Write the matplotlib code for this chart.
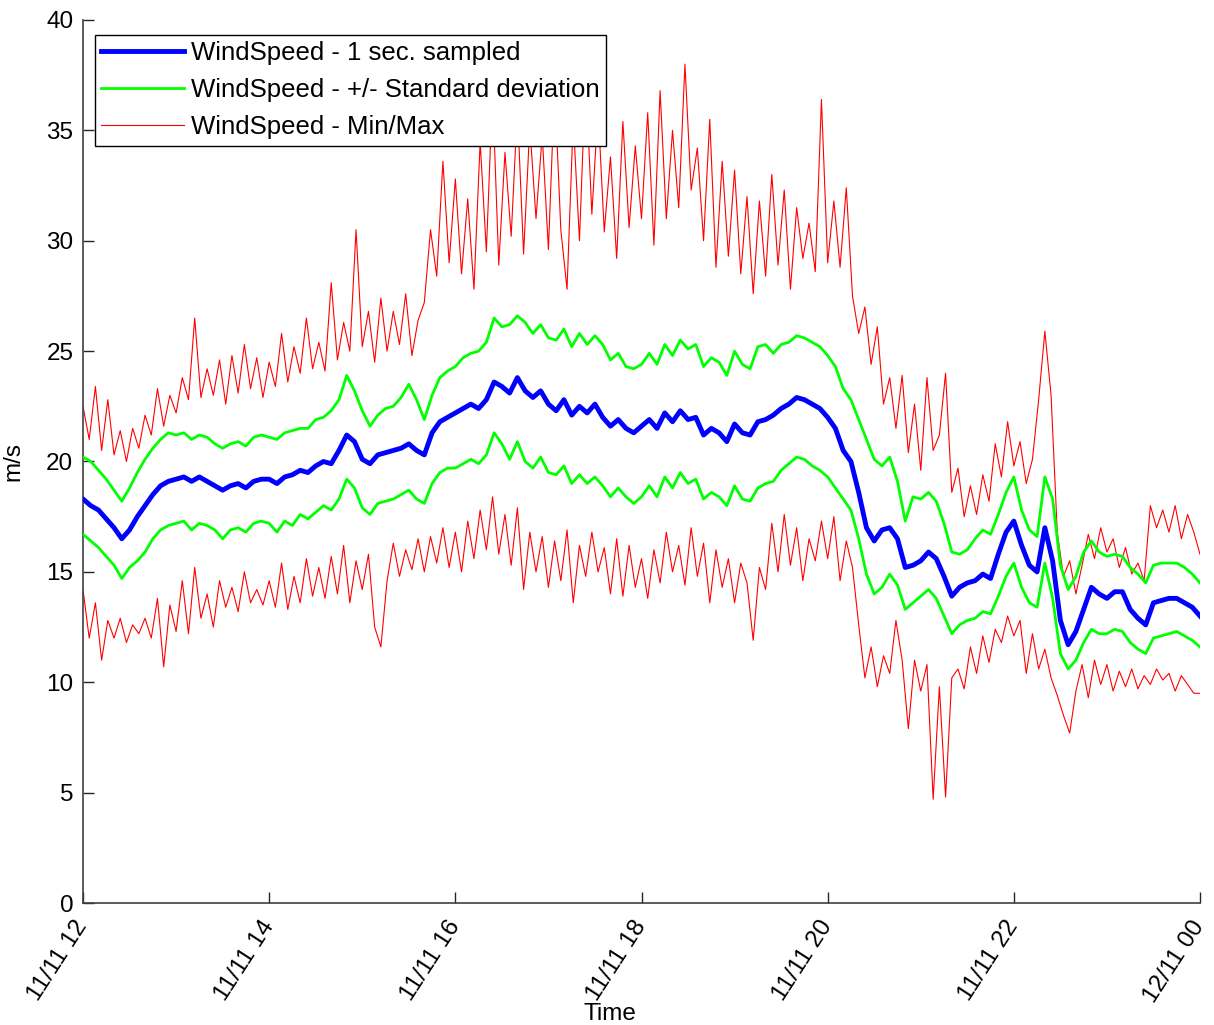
import numpy as np
import matplotlib
matplotlib.use("Agg")
import matplotlib.pyplot as plt

plt.rcParams['font.family'] = ['Liberation Sans', 'DejaVu Sans']

# ---- data ----
# 1 sec. sampled wind speed, 5-minute steps from 11/11 12:00 to 12/11 00:00
mean_speed = [
    18.3, 18.0, 17.8, 17.4, 17.0, 16.5, 16.9, 17.5, 18.0, 18.5, 18.9, 19.1,
    19.2, 19.3, 19.1, 19.3, 19.1, 18.9, 18.7, 18.9, 19.0, 18.8, 19.1, 19.2,
    19.2, 19.0, 19.3, 19.4, 19.6, 19.5, 19.8, 20.0, 19.9, 20.5, 21.2, 20.9,
    20.1, 19.9, 20.3, 20.4, 20.5, 20.6, 20.8, 20.5, 20.3, 21.3, 21.8, 22.0,
    22.2, 22.4, 22.6, 22.4, 22.8, 23.6, 23.4, 23.1, 23.8, 23.2, 22.9, 23.2,
    22.6, 22.3, 22.8, 22.1, 22.5, 22.2, 22.6, 22.0, 21.6, 21.9, 21.5, 21.3,
    21.6, 21.9, 21.5, 22.2, 21.8, 22.3, 21.9, 22.0, 21.2, 21.5, 21.3, 20.9,
    21.7, 21.3, 21.2, 21.8, 21.9, 22.1, 22.4, 22.6, 22.9, 22.8, 22.6, 22.4,
    22.0, 21.5, 20.5, 20.0, 18.6, 17.0, 16.4, 16.9, 17.0, 16.5, 15.2, 15.3,
    15.5, 15.9, 15.6, 14.8, 13.9, 14.3, 14.5, 14.6, 14.9, 14.7, 15.8, 16.8,
    17.3, 16.2, 15.3, 15.0, 17.0, 15.5, 12.8, 11.7, 12.3, 13.3, 14.3, 14.0,
    13.8, 14.1, 14.1, 13.3, 12.9, 12.6, 13.6, 13.7, 13.8, 13.8, 13.6, 13.4,
    13.0,
]
# +/- standard deviation band (upper / lower), same 5-minute steps
std_upper = [
    20.2, 20.0, 19.6, 19.2, 18.7, 18.2, 18.8, 19.5, 20.1, 20.6, 21.0, 21.3,
    21.2, 21.3, 21.0, 21.2, 21.1, 20.8, 20.6, 20.8, 20.9, 20.7, 21.1, 21.2,
    21.1, 21.0, 21.3, 21.4, 21.5, 21.5, 21.9, 22.0, 22.3, 22.8, 23.9, 23.2,
    22.3, 21.6, 22.1, 22.4, 22.5, 22.9, 23.5, 22.8, 21.9, 23.0, 23.8, 24.1,
    24.3, 24.7, 24.9, 25.0, 25.4, 26.5, 26.1, 26.2, 26.6, 26.3, 25.8, 26.2,
    25.6, 25.5, 26.0, 25.2, 25.8, 25.3, 25.7, 25.3, 24.6, 24.9, 24.3, 24.2,
    24.4, 24.9, 24.4, 25.3, 24.8, 25.5, 25.1, 25.3, 24.3, 24.7, 24.5, 23.9,
    25.0, 24.4, 24.2, 25.2, 25.3, 24.9, 25.3, 25.4, 25.7, 25.6, 25.4, 25.2,
    24.8, 24.3, 23.3, 22.8, 21.9, 21.0, 20.1, 19.8, 20.2, 19.1, 17.3, 18.4,
    18.3, 18.6, 18.2, 17.2, 15.9, 15.8, 16.0, 16.5, 16.9, 16.7, 17.6, 18.6,
    19.3, 17.8, 16.9, 16.6, 19.3, 18.3, 15.3, 14.2, 14.8, 15.9, 16.4, 15.9,
    15.7, 15.8, 15.7, 15.2, 14.9, 14.5, 15.3, 15.4, 15.4, 15.4, 15.2, 14.9,
    14.5,
]
std_lower = [
    16.7, 16.4, 16.1, 15.7, 15.3, 14.7, 15.2, 15.5, 15.9, 16.5, 16.9, 17.1,
    17.2, 17.3, 16.9, 17.2, 17.1, 16.9, 16.5, 16.9, 17.0, 16.8, 17.2, 17.3,
    17.2, 16.8, 17.3, 17.1, 17.6, 17.4, 17.7, 18.0, 17.8, 18.3, 19.2, 18.8,
    17.9, 17.6, 18.1, 18.2, 18.3, 18.5, 18.7, 18.3, 18.1, 19.0, 19.5, 19.7,
    19.7, 19.9, 20.1, 19.9, 20.3, 21.3, 20.8, 20.1, 20.9, 20.0, 19.7, 20.2,
    19.5, 19.4, 19.8, 19.0, 19.4, 19.0, 19.3, 18.9, 18.4, 18.8, 18.4, 18.1,
    18.4, 18.9, 18.4, 19.3, 18.8, 19.5, 19.0, 19.2, 18.3, 18.6, 18.4, 18.0,
    18.9, 18.3, 18.2, 18.8, 19.0, 19.1, 19.6, 19.9, 20.2, 20.1, 19.8, 19.6,
    19.3, 18.8, 18.3, 17.8, 16.5, 14.9, 14.0, 14.3, 14.9, 14.4, 13.3, 13.6,
    13.9, 14.2, 13.8, 13.0, 12.2, 12.6, 12.8, 12.9, 13.2, 13.1, 13.9, 14.8,
    15.4, 14.3, 13.6, 13.4, 15.4, 13.8, 11.3, 10.6, 11.0, 11.8, 12.4, 12.2,
    12.2, 12.4, 12.3, 11.8, 11.5, 11.3, 12.0, 12.1, 12.2, 12.3, 12.1, 11.9,
    11.6,
]
# Min / Max, 4-minute steps
max_speed = [
    22.5, 21.0, 23.4, 20.5, 22.8, 20.3, 21.4, 20.0, 21.5, 20.6, 22.1, 21.2, 23.3, 21.6, 23.0,
    22.2, 23.8, 22.8, 26.5, 22.9, 24.2, 23.0, 24.6, 22.6, 24.8, 23.1, 25.3, 23.3, 24.7, 22.9,
    24.5, 23.4, 25.8, 23.6, 25.2, 24.0, 26.5, 24.2, 25.4, 24.1, 28.1, 24.6, 26.3, 25.0, 30.5,
    25.2, 26.8, 24.5, 27.4, 25.0, 26.8, 25.3, 27.6, 24.8, 26.4, 27.2, 30.5, 28.4, 33.6, 29.0,
    32.8, 28.5, 31.9, 27.8, 34.5, 29.5, 36.8, 28.9, 34.0, 30.2, 36.0, 29.4, 35.2, 31.0, 34.8,
    29.6, 37.0, 30.5, 27.8, 35.5, 30.0, 37.5, 31.2, 36.0, 30.4, 33.8, 29.2, 35.4, 30.6, 34.3,
    31.0, 35.8, 29.8, 36.8, 31.0, 35.0, 31.5, 38.0, 32.3, 34.2, 30.0, 35.5, 28.8, 33.6, 29.3,
    33.2, 28.5, 32.0, 27.6, 31.8, 28.4, 33.0, 28.9, 32.3, 27.8, 31.5, 29.2, 30.8, 28.6, 36.4,
    29.0, 31.8, 28.8, 32.4, 27.5, 25.8, 27.0, 24.4, 26.1, 22.6, 23.8, 21.5, 23.9, 20.4, 22.6,
    19.6, 23.8, 20.5, 21.2, 24.0, 18.6, 19.7, 17.5, 18.9, 17.6, 19.4, 18.2, 20.8, 19.3, 21.8,
    19.8, 20.9, 19.0, 20.1, 22.8, 25.9, 23.0, 16.8, 14.8, 15.5, 14.0, 15.3, 16.7, 15.6, 17.0,
    15.9, 16.5, 15.2, 16.1, 14.9, 15.4, 14.6, 18.0, 17.0, 17.8, 16.8, 18.0, 16.5, 17.6, 16.8,
    15.8,
]
min_speed = [
    14.2, 12.0, 13.6, 11.0, 12.8, 12.0, 12.9, 11.8, 12.6, 12.2, 12.9, 12.0, 13.8, 10.7, 13.5,
    12.3, 14.6, 12.2, 15.2, 12.9, 14.0, 12.5, 14.6, 13.4, 14.3, 13.2, 15.0, 13.6, 14.2, 13.5,
    14.6, 13.4, 15.4, 13.3, 14.8, 13.6, 15.6, 13.9, 15.2, 13.8, 15.7, 14.0, 16.2, 13.6, 15.5,
    14.2, 15.8, 12.5, 11.6, 14.6, 16.3, 14.8, 16.0, 15.1, 16.5, 15.0, 16.6, 15.4, 17.0, 15.2,
    16.8, 15.0, 17.3, 15.6, 17.8, 16.0, 18.4, 15.8, 17.6, 15.3, 17.9, 14.2, 16.8, 15.0, 16.6,
    14.3, 16.4, 14.6, 16.9, 13.6, 16.2, 14.8, 16.8, 15.0, 16.1, 14.0, 16.5, 13.9, 16.2, 14.3,
    15.6, 13.8, 16.0, 14.5, 16.8, 15.0, 16.2, 14.4, 17.0, 14.8, 16.3, 13.6, 16.0, 14.3, 15.6,
    13.6, 15.4, 14.5, 11.9, 15.2, 14.2, 17.2, 15.0, 17.6, 15.3, 17.0, 14.6, 16.5, 15.5, 17.3,
    15.6, 17.5, 14.6, 16.4, 15.2, 12.6, 10.2, 11.6, 9.8, 11.2, 10.4, 12.8, 11.0, 7.9, 11.0,
    9.6, 10.8, 4.7, 9.8, 4.8, 10.2, 10.6, 9.7, 11.6, 10.4, 12.1, 10.9, 12.4, 11.8, 13.0,
    12.1, 12.8, 10.4, 12.2, 10.6, 11.5, 10.2, 9.4, 8.5, 7.7, 9.6, 10.8, 9.3, 11.0, 9.9,
    10.8, 9.6, 10.5, 9.8, 10.6, 9.7, 10.3, 9.9, 10.6, 10.1, 10.4, 9.6, 10.3, 9.9, 9.5,
    9.5,
]
tick_hours = [12, 14, 16, 18, 20, 22, 24]
tick_labels = ['11/11 12', '11/11 14', '11/11 16', '11/11 18',
               '11/11 20', '11/11 22', '12/11 00']
legend_labels = ['WindSpeed - 1 sec. sampled',
                 'WindSpeed - +/- Standard deviation',
                 'WindSpeed - Min/Max']

t5 = np.linspace(12, 24, len(mean_speed))
t4 = np.linspace(12, 24, len(max_speed))

fig = plt.figure(figsize=(12.14, 10.25), dpi=100)
ax = fig.add_axes([83/1214, 122/1025, 1117/1214, 883/1025])

l_max, = ax.plot(t4, max_speed, color='#ff0000', lw=0.8, zorder=2)
ax.plot(t4, min_speed, color='#ff0000', lw=0.8, zorder=2)
l_up, = ax.plot(t5, std_upper, color='#00ff00', lw=2.0, zorder=3)
ax.plot(t5, std_lower, color='#00ff00', lw=2.0, zorder=3)
l_mean, = ax.plot(t5, mean_speed, color='#0000ff', lw=3.5, zorder=4)

ax.set_xlim(12, 24)
ax.set_ylim(0, 40)
ax.set_yticks(np.arange(0, 41, 5))
ax.set_xticks(tick_hours)
ax.set_xticklabels(tick_labels, rotation=57, ha='right', va='center',
                   rotation_mode='anchor')
ax.tick_params(direction='in', length=8, width=1, labelsize=17.5,
               colors='#262626', labelcolor='black')
ax.tick_params(axis='x', pad=14)
ax.tick_params(axis='y', pad=7)
for s in ['top', 'right']:
    ax.spines[s].set_visible(False)
for s in ['left', 'bottom']:
    ax.spines[s].set_color('#404040')
    ax.spines[s].set_linewidth(1.2)

ax.set_ylabel('m/s', fontsize=17.5)
ax.yaxis.set_label_coords(-0.052, 0.5)
ax.set_xlabel('Time', fontsize=17.5)
ax.xaxis.set_label_coords(0.472, -0.113)

leg = ax.legend([l_mean, l_up, l_max], legend_labels, loc='upper left',
                bbox_to_anchor=(0.0107, 0.983), borderaxespad=0,
                fontsize=18.5, fancybox=False, framealpha=1,
                edgecolor='black', handlelength=3.2, handletextpad=0.3,
                labelspacing=0.5, borderpad=0.25)
leg.get_frame().set_linewidth(1.0)
leg.set_zorder(10)

fig.savefig('out.png', dpi=100)
